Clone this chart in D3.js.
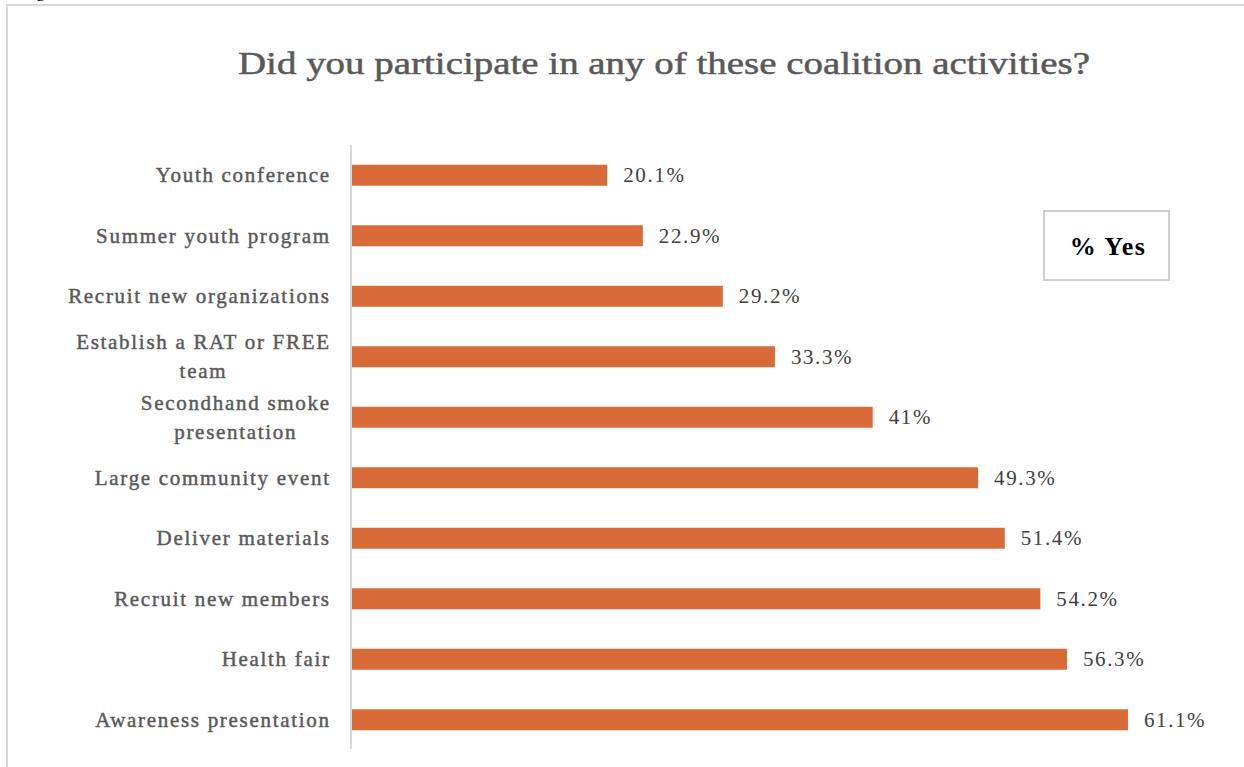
<!DOCTYPE html>
<html>
<head>
<meta charset="utf-8">
<script src="https://cdn.jsdelivr.net/npm/d3@7"></script>
<style>
  html, body { margin: 0; padding: 0; background: #ffffff; }
  svg { display: block; }
</style>
</head>
<body>
<svg id="chart" width="1244" height="767"></svg>
<script>
// Survey activities (top to bottom) and share answering "Yes"
const activities = [
  "Youth conference",
  "Summer youth program",
  "Recruit new organizations",
  "Establish a RAT or FREE team",
  "Secondhand smoke presentation",
  "Large community event",
  "Deliver materials",
  "Recruit new members",
  "Health fair",
  "Awareness presentation"
];
const percentYes = [20.1, 22.9, 29.2, 33.3, 41, 49.3, 51.4, 54.2, 56.3, 61.1];
// Wrapped category labels (line breaks for long names)
const labelLines = [
  ["Youth conference"],
  ["Summer youth program"],
  ["Recruit new organizations"],
  ["Establish a RAT or FREE", "team"],
  ["Secondhand smoke", "presentation"],
  ["Large community event"],
  ["Deliver materials"],
  ["Recruit new members"],
  ["Health fair"],
  ["Awareness presentation"]
];
const chartTitle = "Did you participate in any of these coalition activities?";
const seriesName = "% Yes";

const serif = "'Liberation Serif', 'DejaVu Serif', serif";
const svg = d3.select("#chart");

// Outer chart frame
svg.append("rect")
  .attr("x", 7).attr("y", 5)
  .attr("width", 1260).attr("height", 800)
  .attr("fill", "#ffffff")
  .attr("stroke", "#d9d9d9").attr("stroke-width", 2);

// Caption fragment above the frame
svg.append("text")
  .attr("x", 36).attr("y", -3)
  .attr("font-family", serif).attr("font-size", 18)
  .attr("fill", "#000")
  .text("g");

// Title
svg.append("text")
  .attr("x", 664).attr("y", 74)
  .attr("text-anchor", "middle")
  .attr("font-family", serif).attr("font-size", 32)
  .attr("fill", "#595959")
  .attr("stroke", "#595959").attr("stroke-width", 0.5)
  .attr("textLength", 852).attr("lengthAdjust", "spacingAndGlyphs")
  .text(chartTitle);

const x0 = 352;
const x = d3.scaleLinear().domain([0, 70]).range([x0, x0 + 889]);
const y = d3.scaleBand().domain(activities).range([145, 750]).paddingInner(0.653).paddingOuter(0.3265);

// Bars
svg.append("g").selectAll("rect")
  .data(activities)
  .join("rect")
  .attr("x", x(0))
  .attr("y", d => y(d))
  .attr("width", (d, i) => x(percentYes[i]) - x(0))
  .attr("height", y.bandwidth())
  .attr("fill", "#d86b37");

// Category axis line
svg.append("line")
  .attr("x1", 351).attr("x2", 351)
  .attr("y1", 145).attr("y2", 749)
  .attr("stroke", "#d9d9d9").attr("stroke-width", 2);

// Category labels (multi-line labels are centred on their own block)
const labelSpacing = 1.7;
const labelRight = 329 + labelSpacing;
const lineGap = 29;
const lab = svg.append("g")
  .attr("font-family", serif).attr("font-size", 21)
  .attr("letter-spacing", labelSpacing)
  .attr("fill", "#595959")
  .attr("stroke", "#595959").attr("stroke-width", 0.45);
activities.forEach((a, i) => {
  const lines = labelLines[i];
  const cy = y(a) + y.bandwidth() / 2;
  const g = lab.append("g");
  const t = g.append("text").attr("text-anchor", "middle");
  lines.forEach((ln, j) => {
    t.append("tspan")
      .attr("x", 0)
      .attr("y", cy + 7 + (j - (lines.length - 1) / 2) * lineGap)
      .text(ln);
  });
  const w = t.node().getBBox().width;
  g.attr("transform", `translate(${labelRight - w / 2},0)`);
});

// Value labels
svg.append("g")
  .attr("font-family", serif).attr("font-size", 21)
  .attr("letter-spacing", 1.6)
  .attr("fill", "#404040")
  .selectAll("text")
  .data(activities)
  .join("text")
  .attr("x", (d, i) => x(percentYes[i]) + 16)
  .attr("y", d => y(d) + y.bandwidth() / 2 + 7)
  .text((d, i) => percentYes[i] + "%");

// Legend box
const lg = svg.append("g");
lg.append("rect")
  .attr("x", 1044).attr("y", 211)
  .attr("width", 125).attr("height", 69)
  .attr("fill", "#ffffff")
  .attr("stroke", "#bfbfbf").attr("stroke-width", 1.5);
lg.append("text")
  .attr("x", 1108).attr("y", 255)
  .attr("text-anchor", "middle")
  .attr("font-family", serif).attr("font-size", 26).attr("font-weight", "bold")
  .attr("letter-spacing", 1.5)
  .attr("fill", "#000000")
  .text(seriesName);
</script>
</body>
</html>
